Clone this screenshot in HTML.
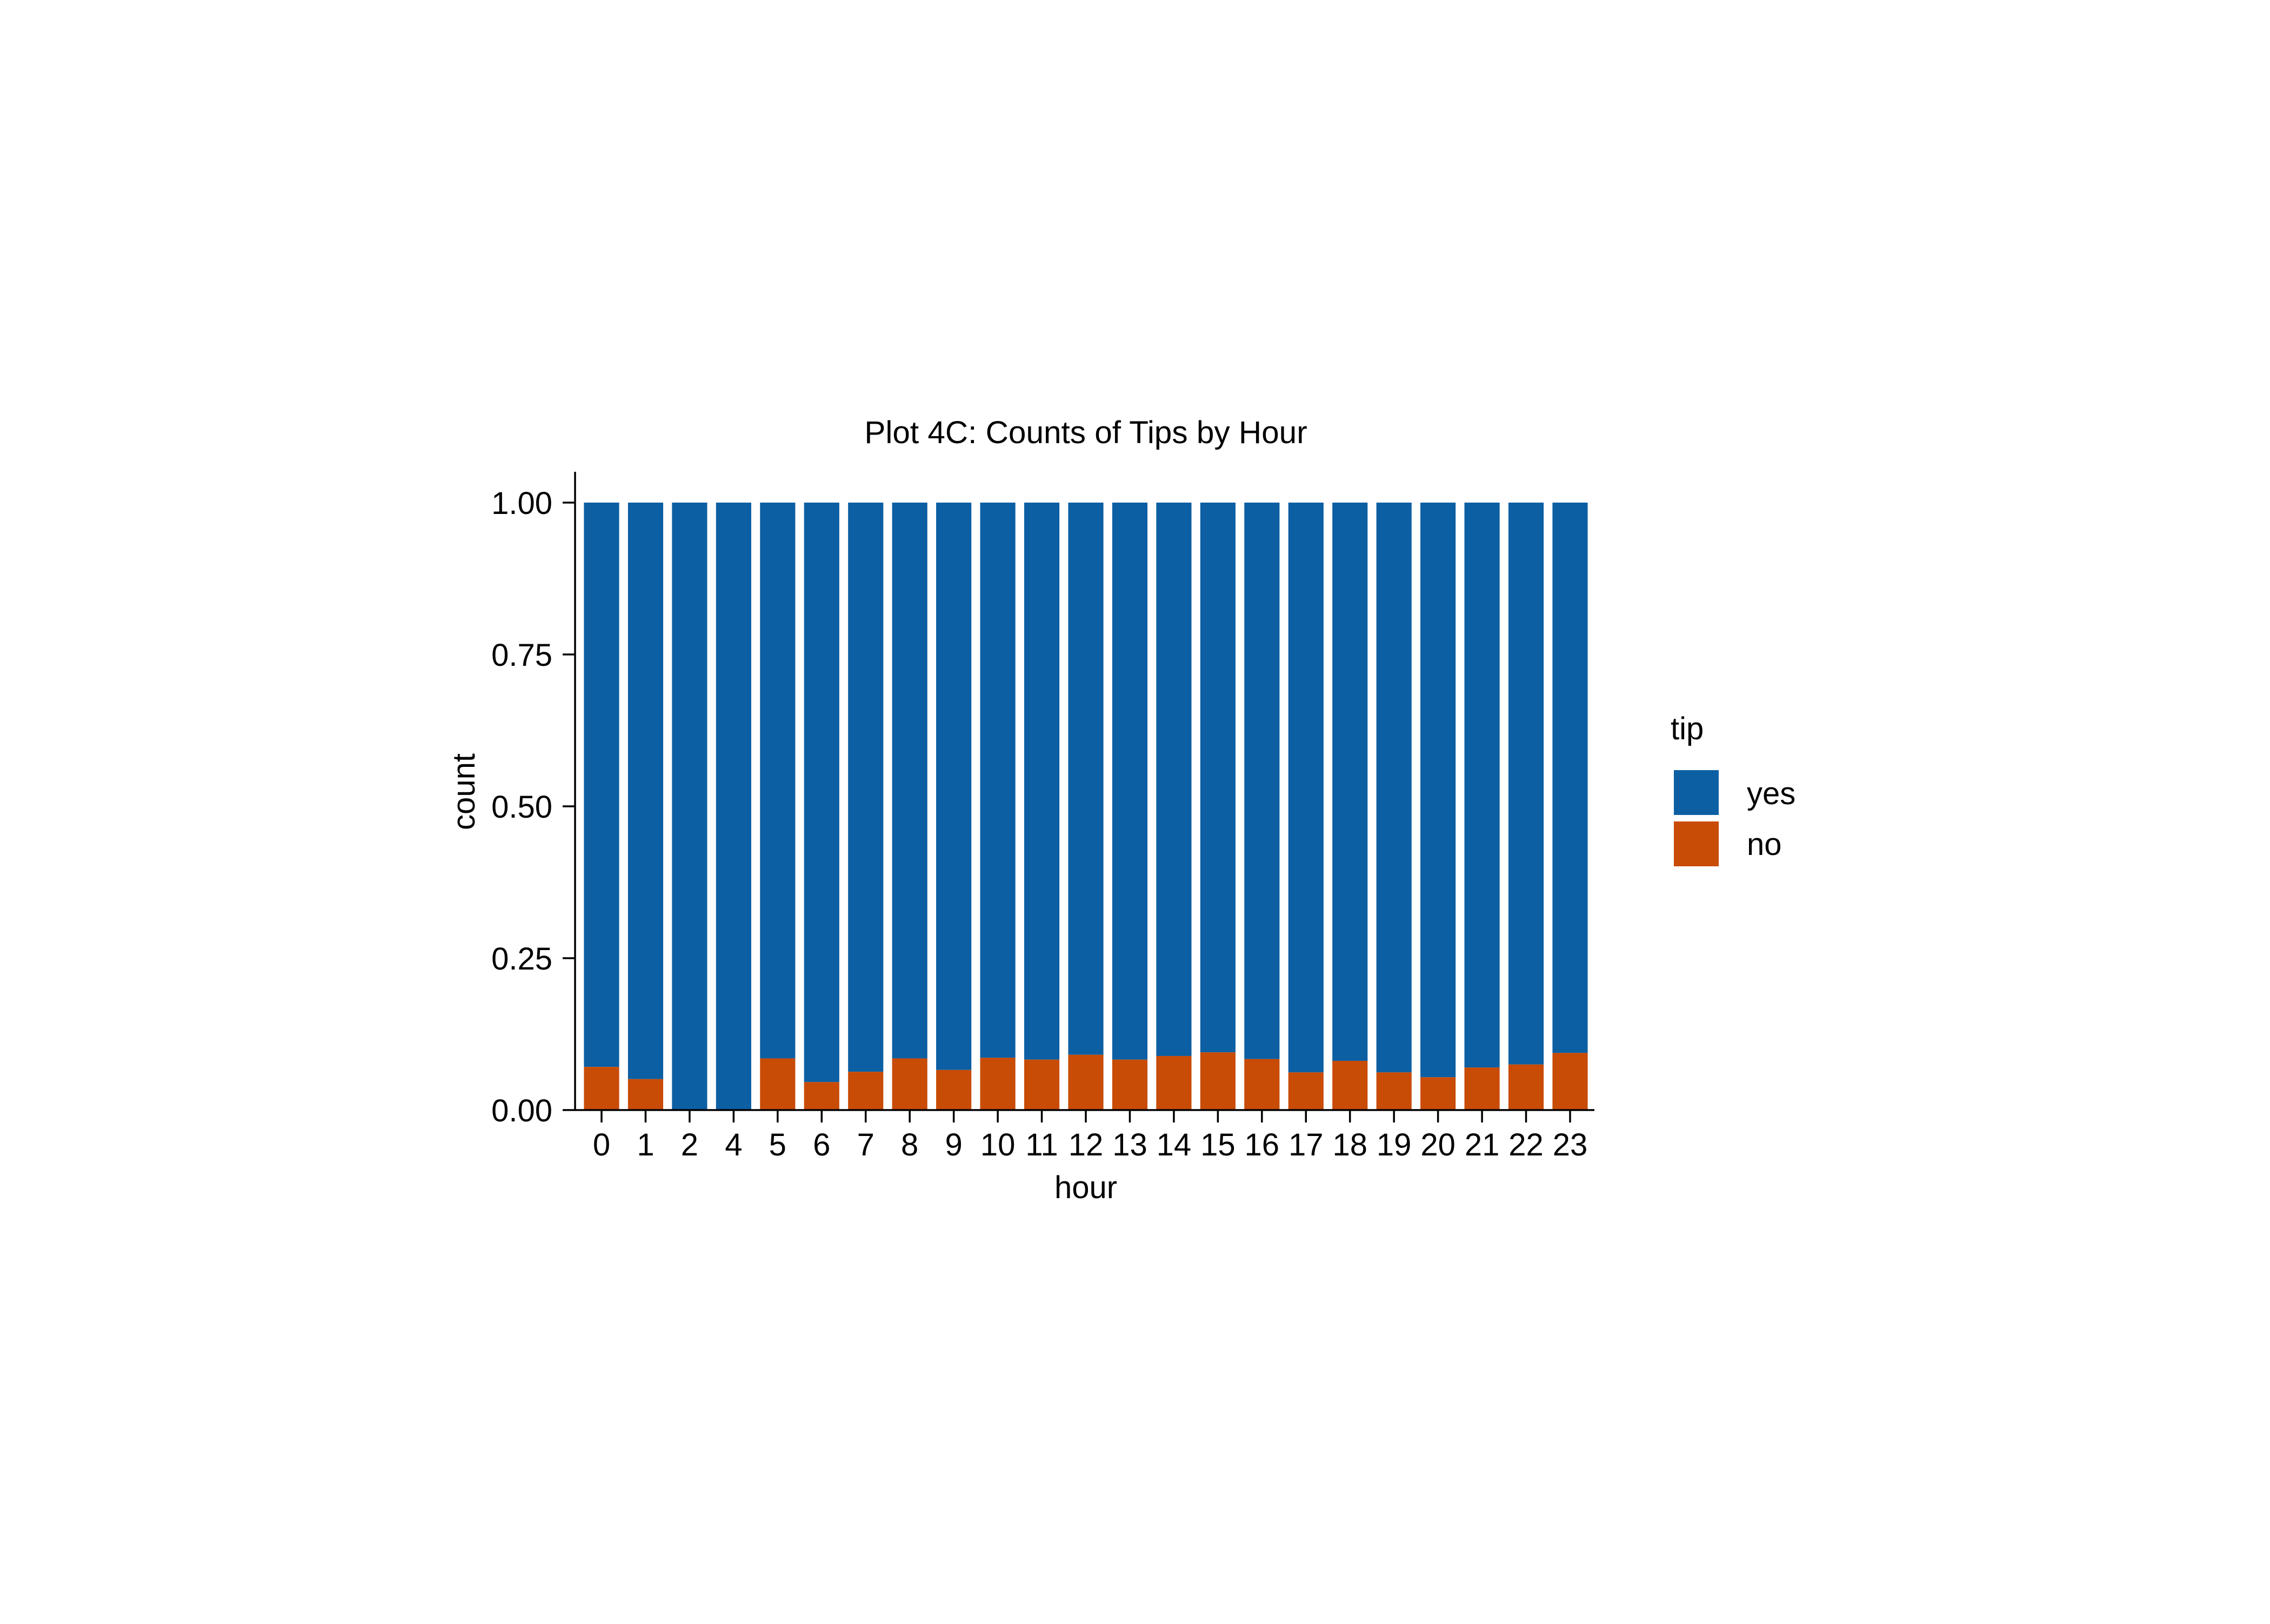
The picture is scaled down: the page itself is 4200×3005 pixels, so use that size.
<!DOCTYPE html>
<html><head><meta charset="utf-8"><style>
html,body{margin:0;padding:0;background:#fff;}
svg text{font-family:"Liberation Sans",Arial,sans-serif;fill:#000;}
</style></head><body>
<svg id="chart" width="4200" height="3000" xmlns="http://www.w3.org/2000/svg">
<rect width="4200" height="3000" fill="#fff"/>
<text x="2009" y="820" font-size="58.5" text-anchor="middle">Plot 4C: Counts of Tips by Hour</text>
<g id="bars"></g>
<g id="axes"></g>
<text x="2009" y="2217" font-size="58" text-anchor="middle">hour</text>
<text transform="translate(878,1465) rotate(-90)" font-size="58" text-anchor="middle">count</text>
<g>
<text x="3091" y="1368" font-size="58">tip</text>
<rect x="3097" y="1425" width="83" height="83" fill="#0c5fa3"/>
<text x="3232" y="1488" font-size="58">yes</text>
<rect x="3097" y="1520" width="83" height="83" fill="#c84b06"/>
<text x="3232" y="1582" font-size="58">no</text>
</g>
</svg>
<script>
const categories = ["0","1","2","4","5","6","7","8","9","10","11","12","13","14","15","16","17","18","19","20","21","22","23"];
const noShare = [0.071,0.051,0,0,0.085,0.046,0.063,0.085,0.066,0.086,0.083,0.091,0.083,0.089,0.095,0.084,0.062,0.081,0.062,0.054,0.070,0.075,0.094];
const yesShare = [0.929,0.949,1,1,0.915,0.954,0.937,0.915,0.934,0.914,0.917,0.909,0.917,0.911,0.905,0.916,0.938,0.919,0.938,0.946,0.930,0.925,0.906];
const yTicks = [0,0.25,0.5,0.75,1];
const yTickLabels = ["0.00","0.25","0.50","0.75","1.00"];

const NS = "http://www.w3.org/2000/svg";
const plotL = 1064, plotR = 2950, y0 = 2054, y1 = 930, axisTop = 873;
const n = categories.length;
const firstC = 1113, lastC = 2905;
const step = (lastC - firstC) / (n - 1);
const bw = step * 0.8;
function xPos(i){ return firstC + i * step; }
function yPos(v){ return y0 - v * (y0 - y1); }
function mk(tag, attrs, parent){ const e = document.createElementNS(NS, tag); for (const k in attrs) e.setAttribute(k, attrs[k]); parent.appendChild(e); return e; }

const bars = document.getElementById('bars');
for (let i = 0; i < n; i++) {
  const cx = xPos(i);
  const total = noShare[i] + yesShare[i];
  const yTop = yPos(total);
  const yMid = yPos(noShare[i]);
  const r1 = mk('rect', {x: cx - bw/2, y: yTop, width: bw, height: yMid - yTop, fill: '#0c5fa3'}, bars);
  
  
  const r2 = mk('rect', {x: cx - bw/2, y: yMid, width: bw, height: y0 - yMid, fill: '#c84b06'}, bars);
  
  
}

const axes = document.getElementById('axes');
const yl = mk('line', {x1: plotL, y1: axisTop, x2: plotL, y2: y0 + 1.5, stroke: '#000', 'stroke-width': 3.5}, axes);


const xl = mk('line', {x1: plotL - 1.5, y1: y0, x2: plotR, y2: y0, stroke: '#000', 'stroke-width': 3.5}, axes);


for (let j = 0; j < yTicks.length; j++) {
  const y = yPos(yTicks[j]);
  const t = mk('line', {x1: plotL - 23, y1: y, x2: plotL, y2: y, stroke: '#000', 'stroke-width': 3.5}, axes);
  
  
  const l = mk('text', {x: plotL - 42, y: y + 21, 'font-size': 58, 'text-anchor': 'end'}, axes);
  l.textContent = yTickLabels[j];
  
  
}
for (let i = 0; i < n; i++) {
  const x = xPos(i);
  const t = mk('line', {x1: x, y1: y0, x2: x, y2: y0 + 23, stroke: '#000', 'stroke-width': 3.5}, axes);
  
  
  const l = mk('text', {x: x, y: y0 + 84, 'font-size': 58, 'text-anchor': 'middle'}, axes);
  l.textContent = categories[i];
  
  
}
</script>
</body></html>
